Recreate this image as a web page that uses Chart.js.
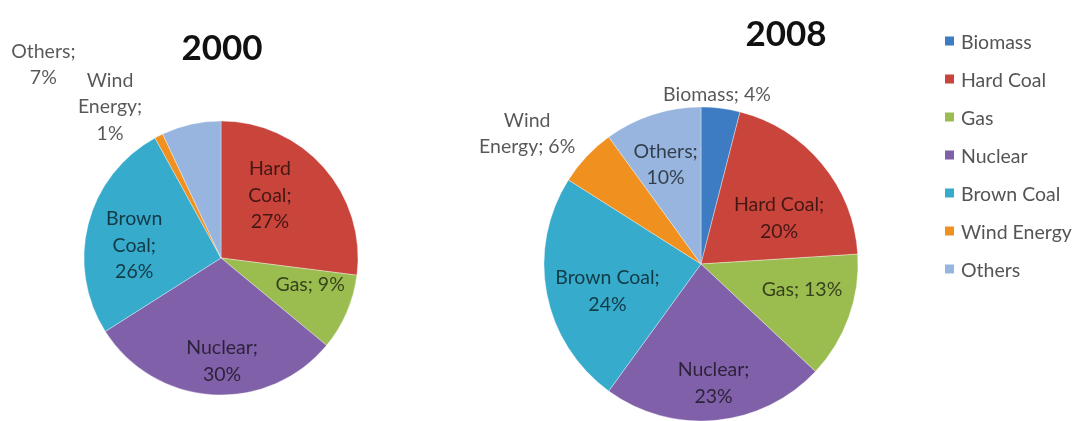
<!DOCTYPE html>
<html lang="en">
<head>
  <meta charset="UTF-8" />
  <title>Electricity mix 2000 / 2008</title>
  <script src="https://cdn.jsdelivr.net/npm/chart.js"></script>
  <style>
    body {
      margin: 0;
      background: #fff;
      font-family: 'Lato', 'Open Sans', sans-serif;
    }
    #stage {
      position: relative;
      width: 1083px;
      height: 421px;
      overflow: hidden;
    }
    #stage canvas {
      position: absolute;
      left: 0;
      top: 0;
    }
    .title {
      position: absolute;
      font-weight: 700;
      font-size: 35px;
      color: #111;
      transform: translate(-50%, -50%);
      line-height: 1;
    }
    #legend {
      position: absolute;
      left: 945px;
      top: 0;
      font-size: 19.5px;
      color: #555;
    }
    #legend .item {
      position: absolute;
      left: 0;
      white-space: nowrap;
      display: flex;
      align-items: center;
      transform: translateY(-50%);
    }
    #legend .box {
      width: 9px;
      height: 9px;
      margin-right: 7px;
    }
  </style>
</head>
<body>
  <div id="stage">
    <canvas id="pie2000" width="1083" height="421"></canvas>
    <canvas id="pie2008" width="1083" height="421"></canvas>
    <div class="title" style="left:222px; top:46px;">2000</div>
    <div class="title" style="left:786px; top:32px;">2008</div>
    <div id="legend"></div>
  </div>

  <script>
    const categories = ['Biomass', 'Hard Coal', 'Gas', 'Nuclear', 'Brown Coal', 'Wind Energy', 'Others'];
    const share2000 = [0, 27, 9, 30, 26, 1, 7];
    const share2008 = [4, 20, 13, 23, 24, 6, 10];
    const sliceColors = ['#3d7cc2', '#c9443b', '#9bbd50', '#8060a8', '#36abcc', '#f0901f', '#97b5de'];

    // label wrapping: words per line for "Name; value%"
    const lines2000 = [null, [1, 1, 1], [2], [1, 1], [1, 1, 1], [1, 1, 1], [1, 1]];
    const lines2008 = [[2], [2, 1], [2], [1, 1], [2, 1], [1, 2], [1, 1]];
    // label placement: [fraction of radius, angle shift in degrees from slice middle]
    const place2000 = [null, [0.58, -10.6], [0.68, -6.5], [0.755, -4.2], [0.64, -6.2], [1.368, -9.3], [1.916, -30]];
    const place2008 = [[1.08, -1.8], [0.577, 9.1], [0.664, -5.4], [0.765, -0.6], [0.62, -5.3], [1.383, -6.4], [0.67, -1.7]];

    function shade(hex, amt) {
      const n = parseInt(hex.slice(1), 16);
      let r = (n >> 16) & 255, g = (n >> 8) & 255, b = n & 255;
      const f = c => Math.round(amt >= 0 ? c + (255 - c) * amt : c * (1 + amt));
      return `rgb(${f(r)},${f(g)},${f(b)})`;
    }

    // soft radial shading on each slice
    function sliceFill(ctx) {
      const base = sliceColors[ctx.dataIndex];
      const chart = ctx.chart;
      const area = chart.chartArea;
      if (!area || !ctx.element) return base;
      const { x, y, outerRadius } = ctx.element.getProps(['x', 'y', 'outerRadius'], true);
      if (!outerRadius) return base;
      const g = chart.ctx.createRadialGradient(x, y, 0, x, y, outerRadius);
      g.addColorStop(0, shade(base, 0.07));
      g.addColorStop(0.85, base);
      g.addColorStop(1, shade(base, -0.08));
      return g;
    }

    const sliceLabels = {
      id: 'sliceLabels',
      afterDatasetsDraw(chart, args, opts) {
        const ctx = chart.ctx;
        const ds = chart.data.datasets[0];
        const meta = chart.getDatasetMeta(0);
        ctx.save();
        ctx.font = '19.5px Lato, "Open Sans", sans-serif';
        ctx.fillStyle = 'rgba(0,0,0,0.66)';
        ctx.textAlign = 'center';
        ctx.textBaseline = 'middle';
        meta.data.forEach((arc, i) => {
          const value = ds.data[i];
          if (!value || !opts.place[i]) return;
          const p = arc.getProps(['x', 'y', 'startAngle', 'endAngle', 'outerRadius'], true);
          const [k, shift] = opts.place[i];
          const mid = (p.startAngle + p.endAngle) / 2 + shift * Math.PI / 180;
          const cx = p.x + Math.cos(mid) * p.outerRadius * k;
          const cy = p.y + Math.sin(mid) * p.outerRadius * k;
          const words = `${chart.data.labels[i]}; ${value}%`.split(' ');
          const rows = [];
          let w = 0;
          opts.lines[i].forEach(n => { rows.push(words.slice(w, w + n).join(' ')); w += n; });
          const lh = 26.5;
          rows.forEach((t, r) => {
            ctx.fillText(t, cx, cy + (r - (rows.length - 1) / 2) * lh);
          });
        });
        ctx.restore();
      }
    };

    function makePie(id, values, radius, padding, lines, place) {
      return new Chart(document.getElementById(id), {
        type: 'pie',
        data: {
          labels: categories,
          datasets: [{
            data: values,
            backgroundColor: sliceFill,
            borderColor: 'rgba(255,255,255,0.35)',
            borderWidth: 1,
            radius: radius
          }]
        },
        options: {
          responsive: false,
          animation: false,
          layout: { padding: padding },
          plugins: {
            legend: { display: false },
            tooltip: { enabled: false },
            sliceLabels: { lines: lines, place: place }
          }
        },
        plugins: [sliceLabels]
      });
    }

    makePie('pie2000', share2000, 137, { left: 71, right: 712, top: 108, bottom: 13 }, lines2000, place2000);
    makePie('pie2008', share2008, 157, { left: 544, right: 225, top: 107, bottom: 0 }, lines2008, place2008);

    // legend shared by both pies
    const legend = document.getElementById('legend');
    categories.forEach((name, i) => {
      const item = document.createElement('div');
      item.className = 'item';
      item.style.top = (41 + 38 * i) + 'px';
      item.innerHTML = `<span class="box" style="background:${sliceColors[i]}"></span>${name}`;
      legend.appendChild(item);
    });
  </script>
</body>
</html>
